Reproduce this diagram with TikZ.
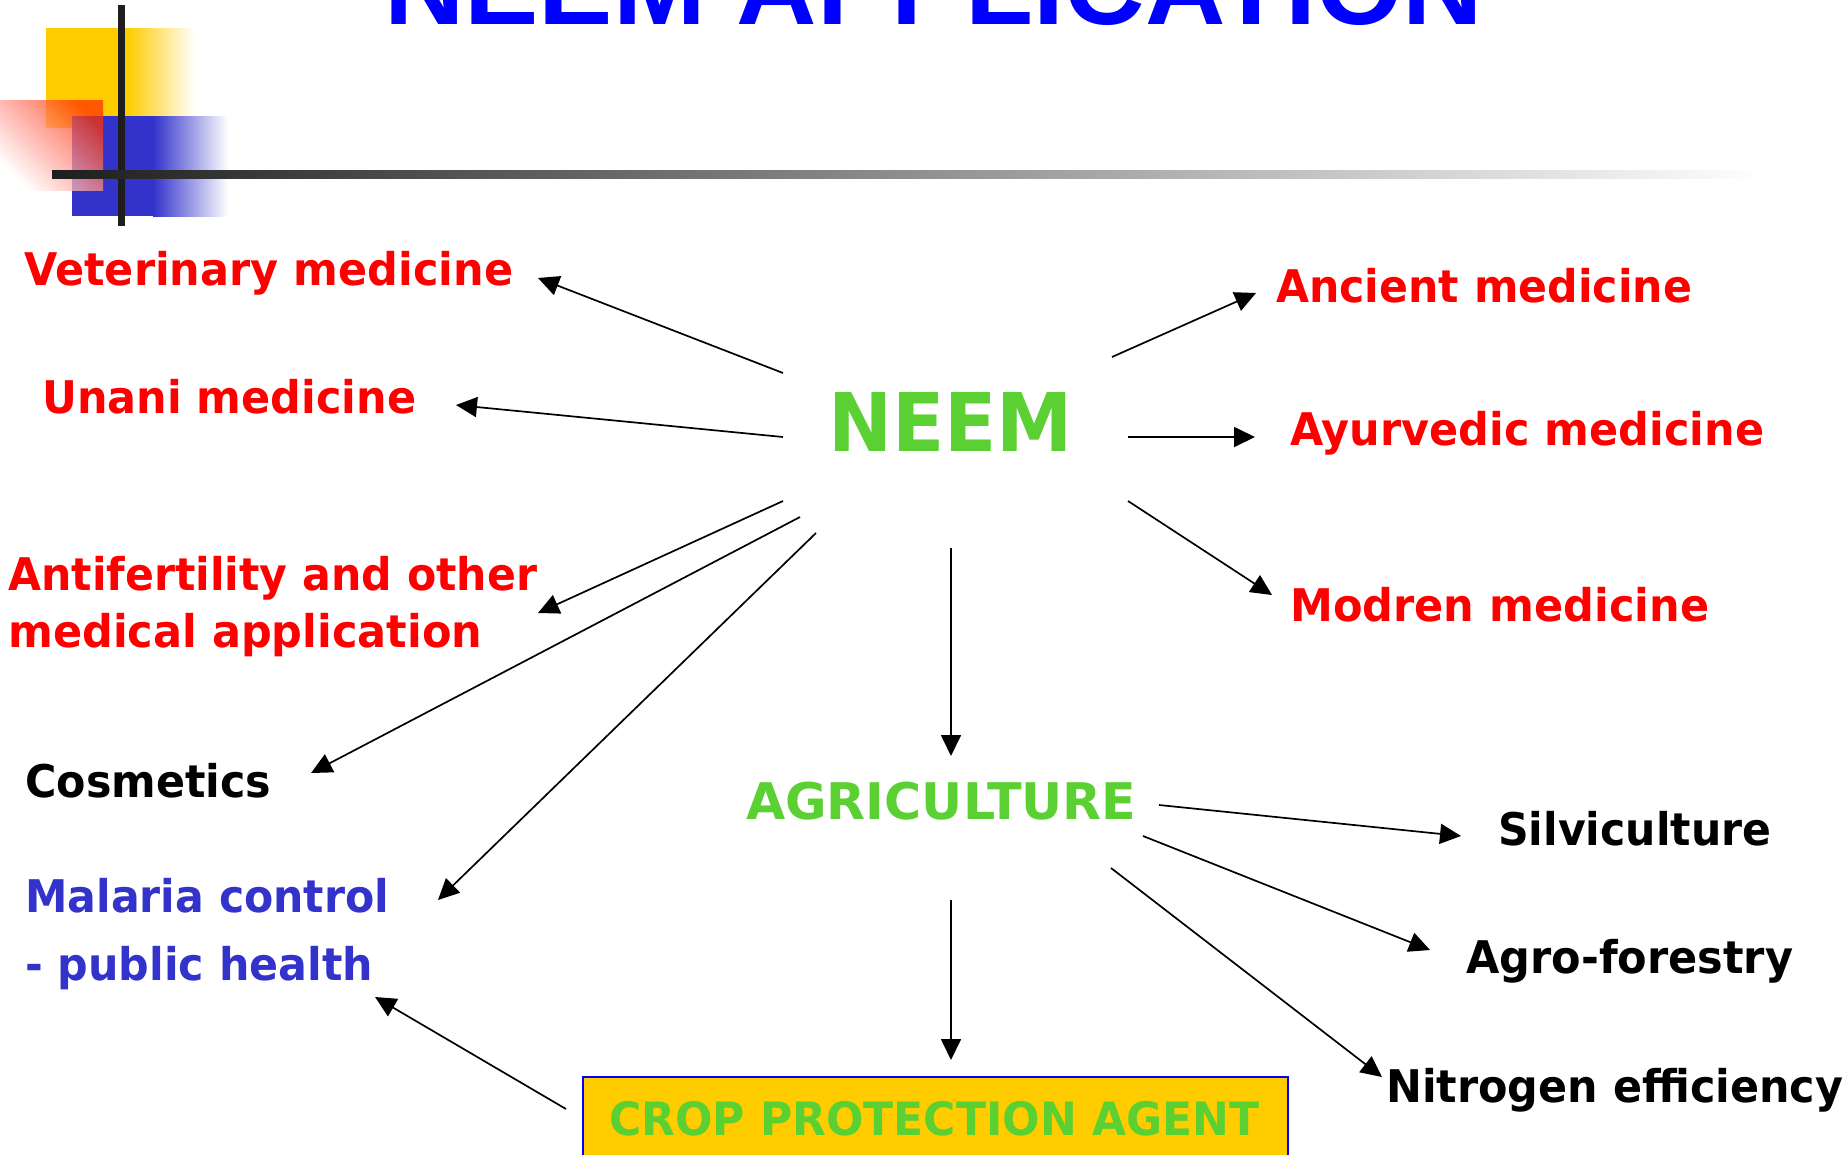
\documentclass[tikz,border=0pt]{standalone}
\usepackage{fontspec}
\usepackage{graphicx}
\usetikzlibrary{arrows.meta}
\newfontfamily\labfont{DejaVu Sans}
\newfontfamily\ttlfont{Liberation Sans}
\newcommand\fitw[2]{\resizebox{#1}{\height}{#2}}
\definecolor{nred}{RGB}{255,0,0}
\definecolor{nredb}{RGB}{255,51,0}
\definecolor{ngreen}{RGB}{90,208,50}
\definecolor{nblue}{RGB}{51,51,204}
\definecolor{tblue}{RGB}{0,0,255}
\definecolor{nyellow}{RGB}{255,204,0}
\definecolor{nbar}{RGB}{30,30,30}
\tikzset{
  lbl/.style={anchor=base west, inner sep=0pt, font=\labfont\bfseries\fontsize{45}{54}\selectfont},
  arr/.style={line width=1.7pt, -{Triangle[length=21pt,width=20pt]}},
}
\begin{document}
\begin{tikzpicture}[x=1pt,y=-1pt]
\useasboundingbox (0,0) rectangle (1847,1154);
\fill[white] (0,0) rectangle (1847,1154);
% decoration
\fill[nyellow] (46,28) rectangle (127,128);
\shade[left color=nyellow, right color=white] (127,28) rectangle (195,128);
\fill[nblue] (72,116) rectangle (153,216);
\shade[left color=nblue, right color=white] (153,116) rectangle (228,216);
\shade[shading=axis, top color=nredb, bottom color=white, middle color={rgb,255:red,255;green,150;blue,140}, shading angle=-45, opacity=0.75] (0,100) rectangle (103,190);
\fill[nbar] (118,5) rectangle (125,226);
\shade[left color=nbar, right color=white] (52,170) rectangle (1765,178);
% title
\node[anchor=base west, inner sep=0pt, text=tblue, font=\ttlfont\bfseries\fontsize{108}{120}\selectfont] (title) at (384,24) {\fitw{1099pt}{NEEM APPLICATION}};
% labels
\node[lbl, text=nred] (vet) at (24,285) {\fitw{489pt}{Veterinary medicine}};
\node[lbl, text=nred] (unani) at (42,413) {\fitw{374pt}{Unani medicine}};
\node[lbl, text=nred] (anti1) at (8,590) {\fitw{529pt}{Antifertility and other}};
\node[lbl, text=nred] (anti2) at (8,647) {\fitw{474pt}{medical application}};
\node[lbl, text=nred] (ancient) at (1276,302) {\fitw{416pt}{Ancient medicine}};
\node[lbl, text=nred] (ayur) at (1290,445) {\fitw{474pt}{Ayurvedic medicine}};
\node[lbl, text=nred] (modren) at (1290,621) {\fitw{419pt}{Modren medicine}};
\node[lbl, text=ngreen, font=\labfont\bfseries\fontsize{81}{90}\selectfont] (neem) at (828,451) {\fitw{245pt}{NEEM}};
\node[lbl, text=black] (cosm) at (25,797) {\fitw{246pt}{Cosmetics}};
\node[lbl, text=nblue] (mal1) at (25,912) {\fitw{364pt}{Malaria control}};
\node[lbl, text=nblue] (mal2) at (25,980) {\fitw{348pt}{- public health}};
\node[lbl, text=ngreen, font=\labfont\bfseries\fontsize{50.5}{60}\selectfont] (agri) at (746,819) {\fitw{390pt}{AGRICULTURE}};
\node[lbl, text=black] (silvi) at (1498,845) {\fitw{273pt}{Silviculture}};
\node[lbl, text=black] (agro) at (1466,973) {\fitw{327pt}{Agro-forestry}};
\node[lbl, text=black] (nitro) at (1386,1102) {\fitw{457pt}{Nitrogen efficiency}};
\node[draw=tblue, fill=nyellow, line width=1.5pt, anchor=north west, minimum width=705pt, minimum height=110pt, inner sep=0pt] (cropbox) at (582,1076) {};
\node[lbl, text=ngreen, font=\labfont\bfseries\fontsize{46}{55}\selectfont] (crop) at (609,1135) {\fitw{650pt}{CROP PROTECTION AGENT}};
% connector ends
\coordinate (nVetS) at (783,373);   \coordinate (nVetE) at (538,278);
\coordinate (nUnaS) at (783,437);   \coordinate (nUnaE) at (456,405);
\coordinate (nAntS) at (783,501);   \coordinate (nAntE) at (538,613);
\coordinate (nCosS) at (800,517);   \coordinate (nCosE) at (311,773);
\coordinate (nMalS) at (816,533);   \coordinate (nMalE) at (438,900);
\coordinate (nAncS) at (1112,357);  \coordinate (nAncE) at (1256,293);
\coordinate (nAyuS) at (1128,437);  \coordinate (nAyuE) at (1255,437);
\coordinate (nModS) at (1128,501);  \coordinate (nModE) at (1272,595);
\coordinate (nAgrS) at (951,548);   \coordinate (nAgrE) at (951,756);
\coordinate (aSilS) at (1159,805);  \coordinate (aSilE) at (1461,836);
\coordinate (aAgrS) at (1143,836);  \coordinate (aAgrE) at (1430,950);
\coordinate (aNitS) at (1111,868);  \coordinate (aNitE) at (1382,1077);
\coordinate (aCroS) at (951,900);   \coordinate (aCroE) at (951,1060);
\coordinate (cMalS) at (566,1109);  \coordinate (cMalE) at (375,997);
% connectors
\draw[arr] (nVetS) -- (nVetE);
\draw[arr] (nUnaS) -- (nUnaE);
\draw[arr] (nAntS) -- (nAntE);
\draw[arr] (nCosS) -- (nCosE);
\draw[arr] (nMalS) -- (nMalE);
\draw[arr] (nAncS) -- (nAncE);
\draw[arr] (nAyuS) -- (nAyuE);
\draw[arr] (nModS) -- (nModE);
\draw[arr] (nAgrS) -- (nAgrE);
\draw[arr] (aSilS) -- (aSilE);
\draw[arr] (aAgrS) -- (aAgrE);
\draw[arr] (aNitS) -- (aNitE);
\draw[arr] (aCroS) -- (aCroE);
\draw[arr] (cMalS) -- (cMalE);
\end{tikzpicture}
\end{document}
